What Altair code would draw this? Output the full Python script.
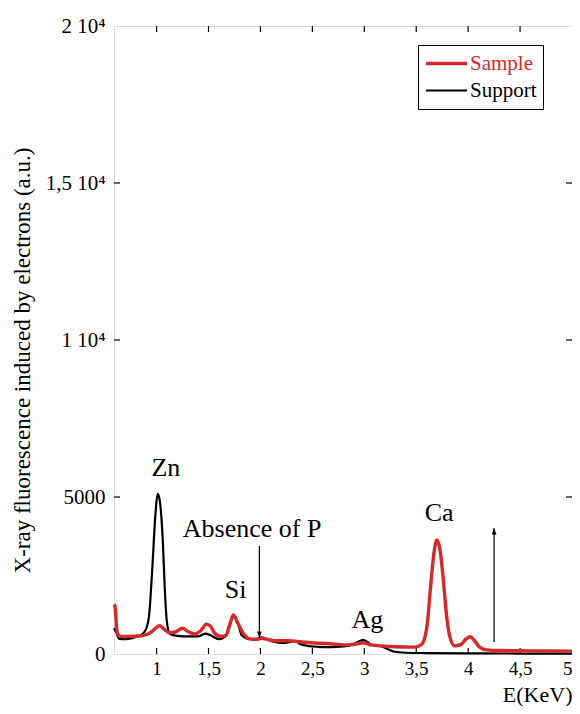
import altair as alt
import pandas as pd

# ---- data ----
support_e = [0.59, 0.61, 0.64, 0.70, 0.78, 0.85, 0.90, 0.93, 0.96, 0.99, 1.01, 1.03, 1.06, 1.08, 1.10, 1.13,
             1.20, 1.30, 1.40, 1.47, 1.52, 1.60, 1.66, 1.70, 1.74, 1.78, 1.82, 1.90, 1.96, 2.01, 2.06, 2.12,
             2.20, 2.28, 2.33, 2.38, 2.45, 2.55, 2.68, 2.80, 2.90, 2.96, 2.99, 3.03, 3.08, 3.16, 3.22, 3.28,
             3.40, 3.60, 4.00, 4.50, 5.00]
support_i = [820, 700, 480, 470, 520, 600, 800, 1300, 2800, 4500, 5100, 4900, 3600, 2000, 1000, 640,
             580, 560, 560, 650, 600, 470, 550, 900, 1180, 1000, 600, 470, 460, 530, 460, 400,
             350, 380, 420, 320, 260, 230, 220, 240, 320, 420, 450, 380, 280, 250, 170, 80,
             40, 30, 20, 15, 10]

sample_e = [0.59, 0.60, 0.62, 0.65, 0.75, 0.85, 0.95, 1.00, 1.03, 1.07, 1.12, 1.18, 1.25, 1.30, 1.37, 1.43,
            1.48, 1.52, 1.56, 1.62, 1.67, 1.71, 1.74, 1.78, 1.83, 1.90, 1.96, 2.01, 2.08, 2.15, 2.27, 2.40,
            2.52, 2.70, 2.84, 2.92, 2.99, 3.05, 3.16, 3.30, 3.48, 3.55, 3.60, 3.64, 3.67, 3.70, 3.73, 3.76,
            3.79, 3.82, 3.87, 3.93, 3.98, 4.02, 4.06, 4.11, 4.18, 4.30, 4.60, 5.00]
sample_i = [1580, 1500, 700, 560, 560, 580, 700, 850, 900, 800, 680, 700, 820, 720, 640, 760,
            950, 880, 660, 560, 600, 1000, 1240, 1000, 680, 480, 470, 500, 460, 420, 420, 380,
            350, 320, 290, 320, 360, 300, 260, 230, 220, 300, 800, 2200, 3200, 3630, 3300, 2400,
            1300, 600, 260, 300, 480, 550, 430, 220, 130, 110, 100, 90]

series_names = ["Sample", "Support"]
series_colors = ["#d42a2a", "#000000"]
series_widths = [3.4, 2.2]

x_ticks = [1, 1.5, 2, 2.5, 3, 3.5, 4, 4.5, 5]
x_tick_labels = ["1", "1,5", "2", "2,5", "3", "3,5", "4", "4,5", "5"]
y_ticks = [0, 5000, 10000, 15000, 20000]
y_tick_labels = ["0", "5000", "1 10\u2074", "1,5 10\u2074", "2 10\u2074"]

ann_text = ["Zn", "Si", "Absence of P", "Ag", "Ca"]
ann_x = [1.09, 1.76, 1.92, 3.03, 3.72]
ann_y = [5925, 2050, 3980, 1080, 4490]

# arrows: (x, y start, y tip)
arrow_x = [1.99, 4.25]
arrow_y0 = [3440, 380]
arrow_y1 = [510, 4010]
arrow_dir = ["down", "up"]

X_DOMAIN = [0.59, 5.0]
Y_DOMAIN = [0, 20000]
W, H = 458, 628

serif = "Liberation Serif"

rows = [{"E": e, "I": i, "series": "Support"} for e, i in zip(support_e, support_i)]
rows += [{"E": e, "I": i, "series": "Sample"} for e, i in zip(sample_e, sample_i)]
df = pd.DataFrame(rows)

xs = alt.Scale(domain=X_DOMAIN, nice=False, zero=False)
ys = alt.Scale(domain=Y_DOMAIN, nice=False)


def label_expr(vals, labs):
    parts = " : ".join(f"datum.value == {v} ? '{l}'" for v, l in zip(vals, labs))
    return parts + " : ''"


x_axis = alt.Axis(values=x_ticks, labelExpr=label_expr(x_ticks, x_tick_labels), ticks=False, domain=False,
                  grid=False, labelFont=serif, labelFontSize=19, labelColor="black", labelPadding=5,
                  title="E(KeV)", titleFont=serif, titleFontSize=22, titleFontWeight="normal",
                  titleColor="black", titleX=W, titleY=47, titleAlign="right", titleBaseline="alphabetic",
                  labelFlush=True, labelOverlap=False)
y_axis = alt.Axis(values=y_ticks, labelExpr=label_expr(y_ticks, y_tick_labels), ticks=False, domain=False,
                  grid=False, labelFont=serif, labelFontSize=21, labelColor="black", labelPadding=9,
                  title="X-ray fluorescence induced by electrons (a.u.)",
                  titleFont="Liberation Sans Narrow", titleFontSize=23, titleFontWeight="normal",
                  titleColor="black", titleX=-92, titleY=H / 2 + 20, titleAngle=-90, titleAlign="center",
                  titleBaseline="middle", labelFlush=False, labelOverlap=False)

lines = alt.Chart(df).mark_line(interpolate="monotone").encode(
    x=alt.X("E:Q", scale=xs, axis=x_axis),
    y=alt.Y("I:Q", scale=ys, axis=y_axis),
    color=alt.Color("series:N", scale=alt.Scale(domain=series_names, range=series_colors),
                    sort=series_names,
                    legend=alt.Legend(title=None, orient="none", legendX=304, legendY=19,
                                      symbolType="stroke", symbolSize=1700, symbolStrokeWidth=3,
                                      clipHeight=25, rowPadding=2,
                                      labelFont=serif, labelFontSize=21,
                                      labelColor={"expr": "datum.label == 'Sample' ? '#d42a2a' : 'black'"},
                                      strokeColor="black", fillColor="white", padding=6,
                                      symbolOffset=0, labelOffset=1)),
    strokeWidth=alt.StrokeWidth("series:N", scale=alt.Scale(domain=series_names, range=series_widths),
                                legend=None),
    order=alt.Order("E:Q"),
)

ann_df = pd.DataFrame({"t": ann_text, "x": ann_x, "y": ann_y})
ann = alt.Chart(ann_df).mark_text(font=serif, fontSize=26, color="black", baseline="middle").encode(
    x=alt.X("x:Q", scale=xs), y=alt.Y("y:Q", scale=ys), text="t:N")

arr_df = pd.DataFrame({"x": arrow_x, "y0": arrow_y0, "y1": arrow_y1, "d": arrow_dir})
arr_line = alt.Chart(arr_df).mark_rule(color="black", strokeWidth=1.2).encode(
    x=alt.X("x:Q", scale=xs), y=alt.Y("y0:Q", scale=ys), y2="y1:Q")
head_down = alt.Chart(arr_df).transform_filter("datum.d == 'down'").mark_point(
    shape="M0,0L-0.4,-1.1L0.4,-1.1Z", filled=True, color="black", size=140, opacity=1).encode(
    x=alt.X("x:Q", scale=xs), y=alt.Y("y1:Q", scale=ys))
head_up = alt.Chart(arr_df).transform_filter("datum.d == 'up'").mark_point(
    shape="M0,0L-0.4,1.1L0.4,1.1Z", filled=True, color="black", size=140, opacity=1).encode(
    x=alt.X("x:Q", scale=xs), y=alt.Y("y1:Q", scale=ys))

# inward tick marks on all four sides
xt_df = pd.DataFrame({"v": x_ticks[:-1]})
yt_df = pd.DataFrame({"v": y_ticks[1:-1]})
tick_style = dict(color="black", strokeWidth=1.2)
t_bottom = alt.Chart(xt_df).mark_rule(**tick_style).encode(
    x=alt.X("v:Q", scale=xs), y=alt.value(H), y2=alt.value(H - 6))
t_top = alt.Chart(xt_df).mark_rule(**tick_style).encode(
    x=alt.X("v:Q", scale=xs), y=alt.value(0), y2=alt.value(6))
t_left = alt.Chart(yt_df).mark_rule(**tick_style).encode(
    y=alt.Y("v:Q", scale=ys), x=alt.value(0), x2=alt.value(6))
t_right = alt.Chart(yt_df).mark_rule(**tick_style).encode(
    y=alt.Y("v:Q", scale=ys), x=alt.value(W), x2=alt.value(W - 6))

chart = alt.layer(t_bottom, t_top, t_left, t_right, lines, ann, arr_line, head_down, head_up).properties(
    width=W, height=H,
    autosize=alt.AutoSizeParams(type="none"),
    padding={"left": 106, "top": 18, "right": 0, "bottom": 52},
).configure_view(stroke="black", strokeWidth=1.5).configure(background="white")

chart.save("out.html", embed_options={"renderer": "svg", "actions": False})
